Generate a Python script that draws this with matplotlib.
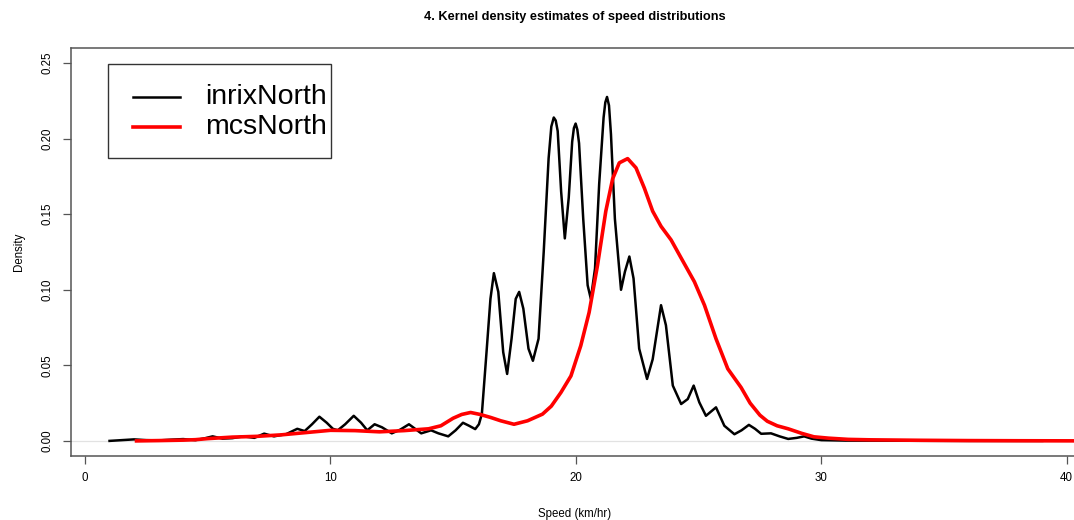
import numpy as np
import matplotlib
matplotlib.use("Agg")
import matplotlib.pyplot as plt
from matplotlib.lines import Line2D
from matplotlib.patches import Rectangle

plt.rcParams['font.family'] = ['Liberation Sans', 'DejaVu Sans']

# inrixNorth density curve (speed, density)
inrix_x = [1.0, 1.5, 2.0, 2.5, 3.0, 3.5, 4.0, 4.5, 4.9, 5.2, 5.6, 6.0, 6.45, 6.9,
           7.3, 7.7, 8.2, 8.65, 8.95, 9.25, 9.55, 9.85, 10.1, 10.3, 10.6, 10.95,
           11.25, 11.5, 11.8, 12.1, 12.5, 12.85, 13.2, 13.45, 13.7, 14.1, 14.4,
           14.8, 15.1, 15.4, 15.65, 15.9, 16.05, 16.17, 16.36, 16.52, 16.66, 16.84,
           17.04, 17.2, 17.38, 17.55, 17.69, 17.86, 18.07, 18.25, 18.48, 18.69,
           18.89, 19.0, 19.1, 19.18, 19.26, 19.4, 19.55, 19.71, 19.85, 19.92, 19.99,
           20.06, 20.13, 20.3, 20.48, 20.61, 20.78, 20.95, 21.13, 21.2, 21.27, 21.35,
           21.43, 21.59, 21.84, 22.0, 22.18, 22.35, 22.58, 22.9, 23.13, 23.47, 23.67,
           23.95, 24.29, 24.56, 24.8, 25.03, 25.3, 25.71, 26.05, 26.46, 26.75, 27.05,
           27.3, 27.55, 27.95, 28.3, 28.65, 29.0, 29.3, 29.6, 30.0, 31.0, 33.0, 36.0,
           39.0]
inrix_y = [0.0, 0.0005, 0.001, 0.0005, 0.0003, 0.0008, 0.0012, 0.0005, 0.0018, 0.003,
           0.0015, 0.0018, 0.003, 0.002, 0.0048, 0.003, 0.0045, 0.008, 0.0065, 0.011,
           0.016, 0.012, 0.008, 0.007, 0.011, 0.0166, 0.012, 0.007, 0.011, 0.009,
           0.005, 0.0075, 0.011, 0.008, 0.005, 0.007, 0.005, 0.003, 0.007, 0.012,
           0.010, 0.0078, 0.011, 0.0178, 0.0587, 0.094, 0.111, 0.0986, 0.0587, 0.0443,
           0.0676, 0.094, 0.0986, 0.0875, 0.061, 0.053, 0.0676, 0.125, 0.187, 0.208,
           0.214, 0.212, 0.205, 0.165, 0.134, 0.161, 0.198, 0.207, 0.210, 0.206,
           0.197, 0.147, 0.103, 0.094, 0.114, 0.170, 0.214, 0.224, 0.2276, 0.222,
           0.203, 0.147, 0.100, 0.112, 0.122, 0.1075, 0.061, 0.041, 0.054, 0.0898,
           0.0765, 0.0366, 0.0244, 0.0277, 0.0366, 0.0255, 0.0166, 0.0222, 0.010,
           0.0044, 0.007, 0.0106, 0.008, 0.0047, 0.005, 0.003, 0.0013, 0.002, 0.003,
           0.0015, 0.0005, 0.0002, 0.0001, 0.0, 0.0]

# mcsNorth density curve
mcs_x = [2.1, 3.0, 4.0, 4.5, 5.0, 5.5, 6.0, 7.0, 8.0, 9.0, 10.0, 11.0, 12.0, 13.0,
         14.0, 14.5, 15.0, 15.35, 15.71, 16.1, 16.53, 16.94, 17.48, 18.03, 18.64,
         19.0, 19.39, 19.8, 20.2, 20.54, 20.88, 21.22, 21.5, 21.77, 22.11, 22.45,
         22.79, 23.13, 23.47, 23.88, 24.29, 24.83, 25.24, 25.71, 26.19, 26.73, 27.1,
         27.5, 27.8, 28.2, 28.65, 29.2, 29.7, 30.3, 31.1, 32.0, 34.0, 36.0, 38.0,
         41.0]
mcs_y = [0.0, 0.0002, 0.0005, 0.0008, 0.0015, 0.002, 0.0025, 0.003, 0.004, 0.0055,
         0.007, 0.0068, 0.006, 0.0068, 0.008, 0.010, 0.015, 0.0175, 0.0188, 0.0175,
         0.0155, 0.0133, 0.011, 0.0133, 0.0177, 0.023, 0.032, 0.043, 0.063, 0.085,
         0.116, 0.152, 0.1735, 0.184, 0.1868, 0.1807, 0.1673, 0.152, 0.142, 0.133,
         0.121, 0.1053, 0.0898, 0.0676, 0.0477, 0.0354, 0.025, 0.017, 0.013, 0.010,
         0.008, 0.005, 0.0027, 0.0018, 0.001, 0.0007, 0.0004, 0.0002, 0.0001, 0.0]

series_names = ['inrixNorth', 'mcsNorth']
series_colors = ['black', '#ff0000']
series_widths = [1.8, 2.6]

x_ticks = [0, 10, 20, 30, 40]
y_ticks = [0.00, 0.05, 0.10, 0.15, 0.20, 0.25]
y_tick_labels = ["0.00", "0.05", "0.10", "0.15", "0.20", "0.25"]

W, H = 1074, 520
fig = plt.figure(figsize=(W / 100, H / 100), dpi=100)
# plot region runs a bit past the right edge of the image, as in the original
left, right, top, bottom = 71, 1079, 48, 456
ax = fig.add_axes([left / W, 1 - bottom / H, (right - left) / W, (bottom - top) / H])

ax.axhline(0, color='#e2e2e2', lw=0.9, zorder=1)
ax.plot(inrix_x, inrix_y, color=series_colors[0], lw=series_widths[0],
        solid_joinstyle='round', zorder=2)
ax.plot(mcs_x, mcs_y, color=series_colors[1], lw=series_widths[1],
        solid_joinstyle='round', zorder=3)

ax.set_xlim(-0.57, 40.5)
ax.set_ylim(-0.01, 0.26)
ax.set_xticks(x_ticks)
ax.set_yticks(y_ticks)
ax.set_yticklabels(y_tick_labels, rotation=90, va='center')

for s in ax.spines.values():
    s.set_color('#555555')
    s.set_linewidth(1.1)
ax.tick_params(direction='out', length=5.5, width=0.9, color='#555555',
               labelsize=8.3, labelcolor='black')
ax.tick_params(axis='x', pad=6)
ax.tick_params(axis='y', pad=7)

ax.set_xlabel('Speed (km/hr)', fontsize=8.3, labelpad=17)
ax.set_ylabel('Density', fontsize=8.3, labelpad=12)
fig.text((left + right) / 2 / W, 1 - 17 / H,
         '4. Kernel density estimates of speed distributions',
         ha='center', va='center', fontsize=9.2, fontweight='bold')

# legend box drawn the R way: tight box, short lines, big text
fig.patches.append(Rectangle((108 / W, 1 - 158 / H), (331 - 108) / W, (158 - 64) / H,
                             transform=fig.transFigure, fill=True, facecolor='white',
                             edgecolor='#333333', lw=1.0, zorder=5))
for i, name in enumerate(series_names):
    yy = 1 - (97 + 30 * i) / H
    fig.lines.append(Line2D([133 / W, 180 / W], [yy, yy], transform=fig.transFigure,
                            color=series_colors[i], lw=series_widths[i], zorder=6))
    fig.text(205 / W, yy, name, ha='left', va='center', fontsize=20.5, zorder=6)

fig.savefig('out.png', dpi=100)
